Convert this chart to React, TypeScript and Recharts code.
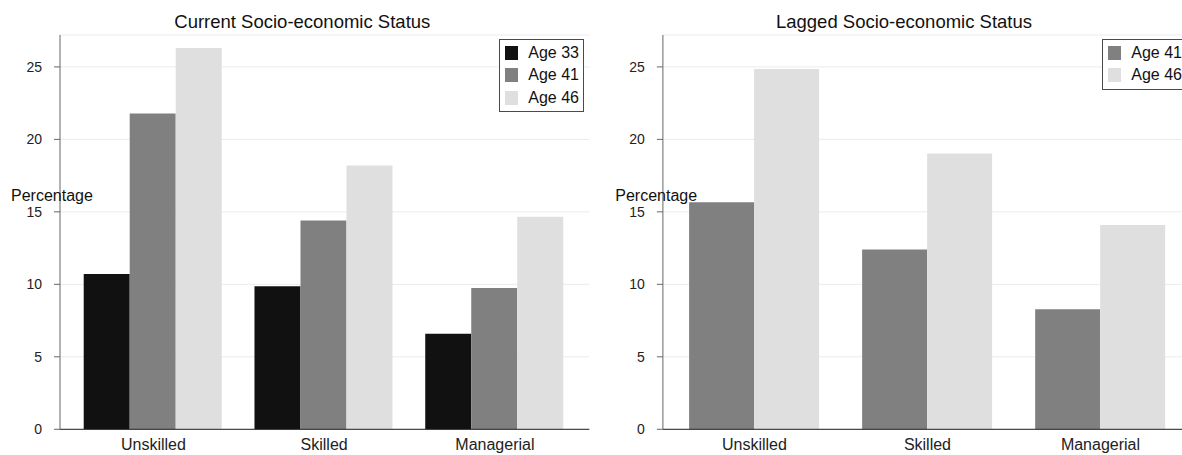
import { BarChart, Bar, XAxis, YAxis, CartesianGrid, Legend } from "recharts";

const categories = ["Unskilled", "Skilled", "Managerial"];
const currentAge33 = [10.71, 9.86, 6.59];
const currentAge41 = [21.79, 14.4, 9.74];
const currentAge46 = [26.31, 18.2, 14.67];
const laggedAge41 = [15.66, 12.41, 8.29];
const laggedAge46 = [24.85, 19.03, 14.1];
const yTicks = [0, 5, 10, 15, 20, 25];

const font = "'Liberation Sans', Arial, sans-serif";
const barColors: Record<string, string> = {
  "Age 33": "#111111",
  "Age 41": "#808080",
  "Age 46": "#dfdfdf"
};

const currentData = categories.map((c, i) => ({
  name: c,
  "Age 33": currentAge33[i],
  "Age 41": currentAge41[i],
  "Age 46": currentAge46[i]
}));

const laggedData = categories.map((c, i) => ({
  name: c,
  "Age 41": laggedAge41[i],
  "Age 46": laggedAge46[i]
}));

const tickStyle = { fontSize: 14, fontFamily: font, fill: "#222" };

function LegendBox({ keys }: { keys: string[] }) {
  return (
    <div
      style={{
        border: "1px solid #4a4a4a",
        background: "#fff",
        width: 83,
        padding: "2px 0",
        fontFamily: font,
        fontSize: 16,
        color: "#111"
      }}
    >
      {keys.map((k) => (
        <div
          key={k}
          style={{ display: "flex", alignItems: "center", height: 22.3 }}
        >
          <span
            style={{
              display: "inline-block",
              width: 13,
              height: 14,
              marginLeft: 5,
              background: barColors[k]
            }}
          />
          <span style={{ marginLeft: 10, whiteSpace: "nowrap" }}>{k}</span>
        </div>
      ))}
    </div>
  );
}

type PanelProps = {
  title: string;
  data: Record<string, string | number>[];
  keys: string[];
  left: number;
  width: number;
  yAxisWidth: number;
  marginRight: number;
  padding: { left: number; right: number };
  gap: string;
  legendLeft: number;
  titleCenter: number;
  labelLeft: number;
};

function Panel(p: PanelProps) {
  return (
    <div style={{ position: "absolute", left: p.left, top: 0, width: p.width, height: 455 }}>
      <BarChart
        width={p.width}
        height={455}
        data={p.data}
        margin={{ top: 35, right: p.marginRight, left: 0, bottom: 0 }}
        barGap={0}
        barCategoryGap={p.gap}
      >
        <CartesianGrid vertical={false} stroke="#ebebeb" />
        <XAxis
          dataKey="name"
          height={25.7}
          padding={p.padding}
          tickSize={0}
          tickMargin={9}
          tick={{ ...tickStyle, fontSize: 16 }}
          axisLine={{ stroke: "#222" }}
        />
        <YAxis
          width={p.yAxisWidth}
          domain={[0, 27.2]}
          ticks={yTicks}
          tickSize={6}
          tickMargin={12}
          tick={tickStyle}
          axisLine={{ stroke: "#666" }}
          tickLine={{ stroke: "#666" }}
        />
        <Legend
          layout="vertical"
          align="center"
          verticalAlign="middle"
          wrapperStyle={{ top: 39, left: p.legendLeft - p.left, width: "auto" }}
          content={() => <LegendBox keys={p.keys} />}
        />
        {p.keys.map((k) => (
          <Bar key={k} dataKey={k} fill={barColors[k]} isAnimationActive={false} />
        ))}
      </BarChart>
      <div
        style={{
          position: "absolute",
          left: p.titleCenter - p.left - 200,
          width: 400,
          top: 12.6,
          textAlign: "center",
          fontFamily: font,
          fontSize: 18.5,
          lineHeight: 1,
          color: "#111"
        }}
      >
        {p.title}
      </div>
      <div
        style={{
          position: "absolute",
          left: p.labelLeft - p.left,
          top: 187.5,
          fontFamily: font,
          fontSize: 16,
          lineHeight: 1,
          color: "#111"
        }}
      >
        Percentage
      </div>
    </div>
  );
}

export default function App() {
  return (
    <div
      style={{
        position: "absolute",
        left: 0,
        top: 0,
        width: 1182,
        height: 455,
        overflow: "hidden",
        background: "#fff"
      }}
    >
      <Panel
        title="Current Socio-economic Status"
        data={currentData}
        keys={["Age 33", "Age 41", "Age 46"]}
        left={0}
        width={600}
        yAxisWidth={60}
        marginRight={10.7}
        padding={{ left: 8, right: 9 }}
        gap="9.2%"
        legendLeft={499.3}
        titleCenter={302.3}
        labelLeft={11}
      />
      <Panel
        title="Lagged Socio-economic Status"
        data={laggedData}
        keys={["Age 41", "Age 46"]}
        left={600}
        width={590}
        yAxisWidth={62.9}
        marginRight={3}
        padding={{ left: 5, right: 0 }}
        gap="12.25%"
        legendLeft={1102.3}
        titleCenter={904}
        labelLeft={615.3}
      />
    </div>
  );
}
